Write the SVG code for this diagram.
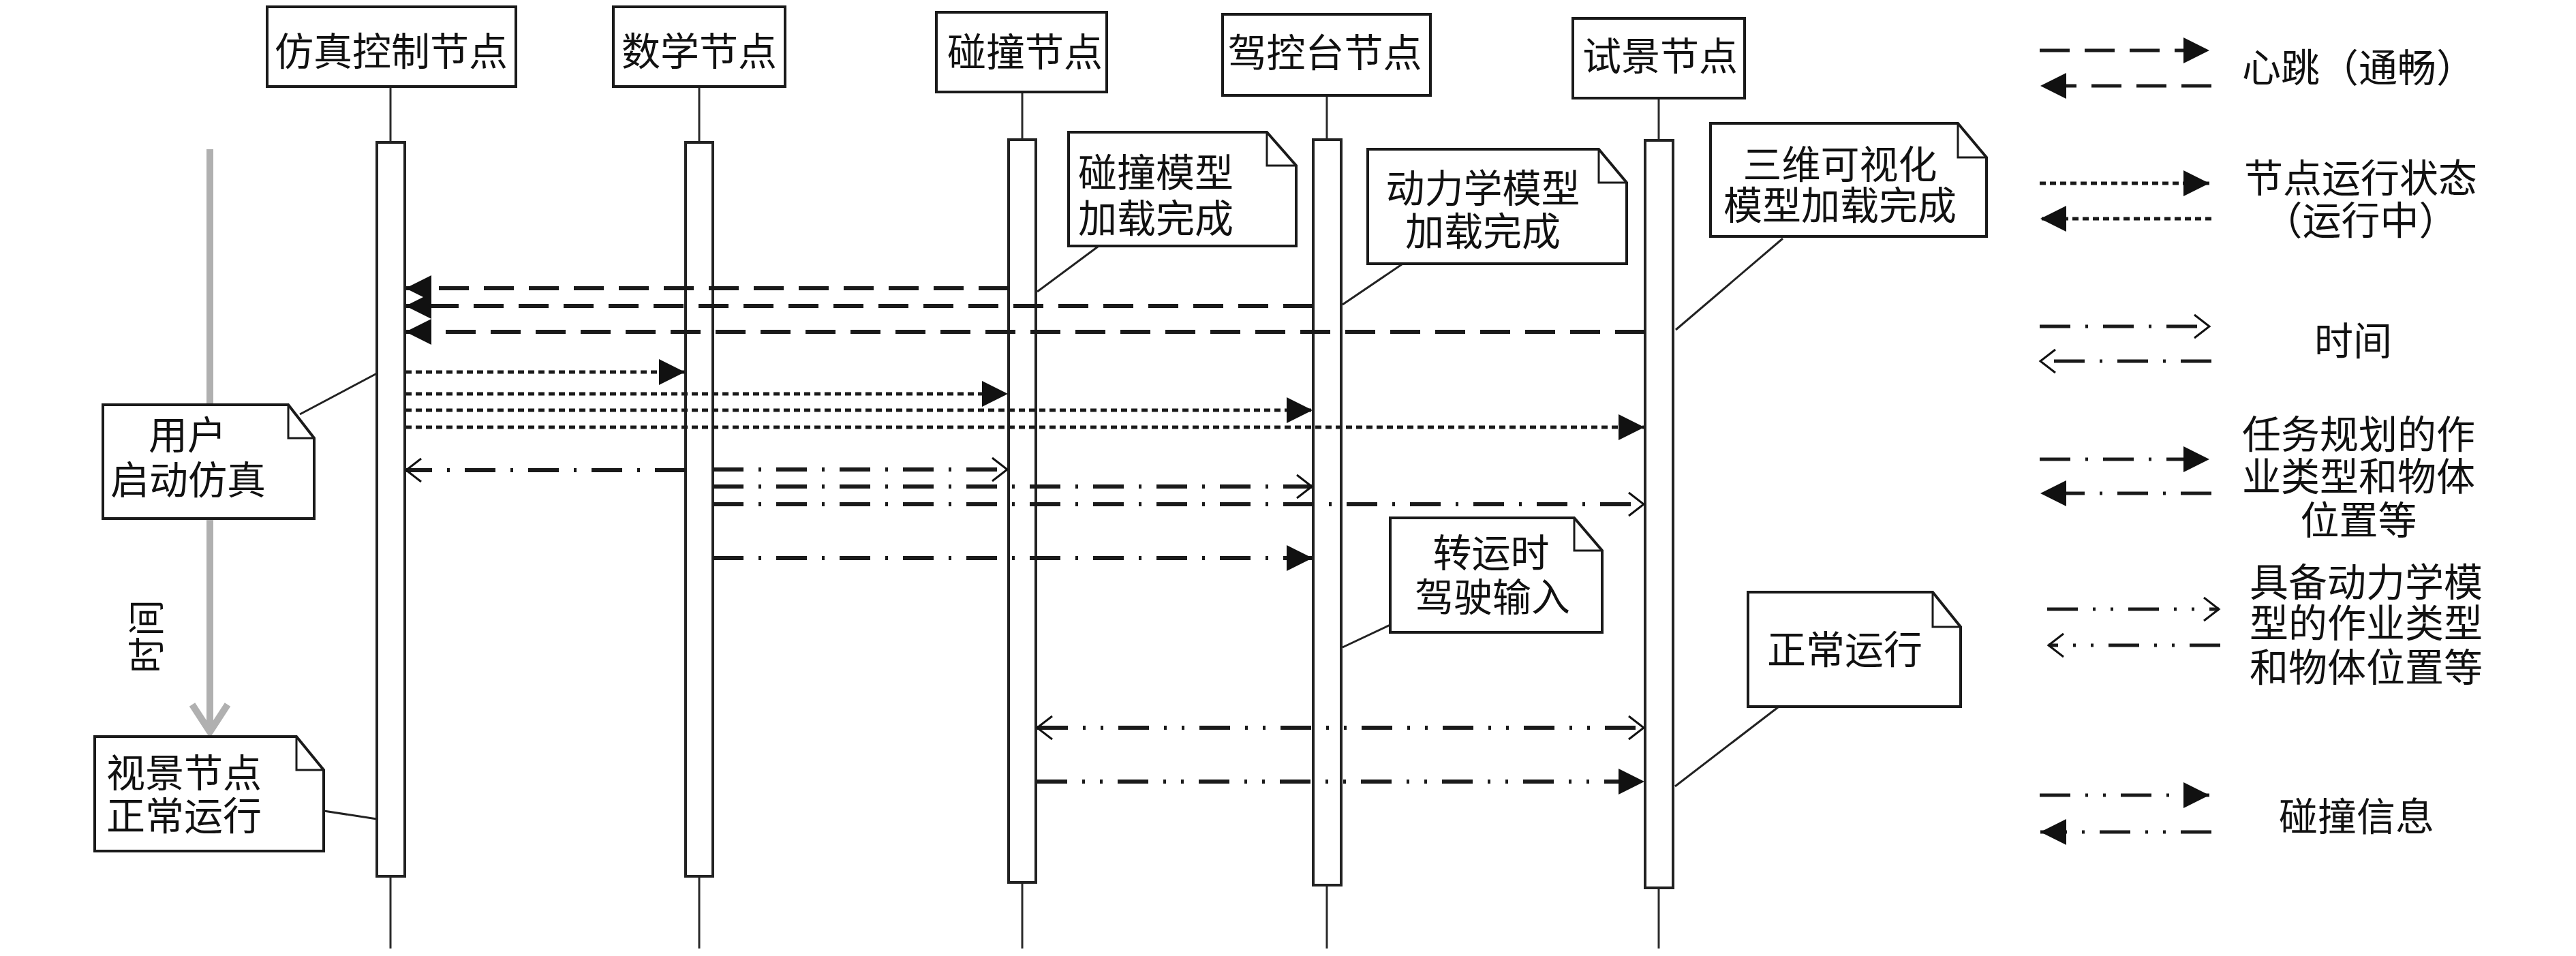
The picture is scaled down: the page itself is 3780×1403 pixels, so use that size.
<svg xmlns="http://www.w3.org/2000/svg" width="3780" height="1403" viewBox="0 0 3780 1403">
<style>
.t{font-family:"Noto Sans CJK SC","Noto Sans",sans-serif;font-size:57px;fill:#111}
.m{text-anchor:middle}
.box{fill:#fff;stroke:#1a1a1a;stroke-width:4}
.bar{fill:#fff;stroke:#222;stroke-width:4}
.life{stroke:#2a2a2a;stroke-width:3;fill:none}
.note{fill:#fff;stroke:#1a1a1a;stroke-width:4;stroke-linejoin:miter}
.fold{fill:none;stroke:#1a1a1a;stroke-width:3}
.nl{stroke:#222;stroke-width:3;fill:none}
.hb{fill:none;stroke:#1a1a1a;stroke-width:6;stroke-dasharray:44 22}
.dt{fill:none;stroke:#1a1a1a;stroke-width:5;stroke-dasharray:9 6}
.dd{fill:none;stroke:#1a1a1a;stroke-width:6;stroke-dasharray:45 22 4 22}
.ddd{fill:none;stroke:#1a1a1a;stroke-width:6;stroke-dasharray:45 22 4 22 4 22}
.fa{marker-end:url(#fa)}
.oa{marker-end:url(#oa)}
.ob{marker-start:url(#oas);marker-end:url(#oa)}
</style>
<defs>
<marker id="fa" markerUnits="userSpaceOnUse" markerWidth="40" markerHeight="40" viewBox="0 0 40 40" refX="38" refY="19" orient="auto" overflow="visible"><path d="M0,0 L38,19 L0,38 Z" fill="#111"/></marker>
<marker id="oa" markerUnits="userSpaceOnUse" markerWidth="26" markerHeight="36" viewBox="0 0 26 36" refX="22" refY="17" orient="auto" overflow="visible"><path d="M0,0 L22,17 L0,34" fill="none" stroke="#111" stroke-width="3"/></marker>
<marker id="oas" markerUnits="userSpaceOnUse" markerWidth="26" markerHeight="36" viewBox="0 0 26 36" refX="22" refY="17" orient="auto-start-reverse" overflow="visible"><path d="M0,0 L22,17 L0,34" fill="none" stroke="#111" stroke-width="3"/></marker>
</defs>
<rect x="0" y="0" width="3780" height="1403" fill="#fff"/>

<!-- time axis -->
<g id="time-axis">
<line x1="308" y1="219" x2="308" y2="1072" stroke="#b0b0b0" stroke-width="10"/>
<polyline points="282,1034 308,1074 334,1034" fill="none" stroke="#b0b0b0" stroke-width="10"/>
<text class="t m" transform="translate(215,934) rotate(-90)" x="0" y="20" style="font-size:54px">时间</text>
</g>

<!-- lifelines -->
<g id="node-sim">
<line class="life" x1="573" y1="127" x2="573" y2="209"/>
<line class="life" x1="573" y1="1286" x2="573" y2="1392"/>
<rect class="box" x="392" y="10" width="365" height="117"/>
<text class="t m" x="574" y="96">仿真控制节点</text>
<rect class="bar" x="553" y="209" width="41" height="1077"/>
</g>
<g id="node-math">
<line class="life" x1="1026" y1="127" x2="1026" y2="209"/>
<line class="life" x1="1026" y1="1286" x2="1026" y2="1392"/>
<rect class="box" x="900" y="10" width="252" height="117"/>
<text class="t m" x="1026" y="96">数学节点</text>
<rect class="bar" x="1006" y="209" width="40" height="1077"/>
</g>
<g id="node-collision">
<line class="life" x1="1500" y1="135" x2="1500" y2="205"/>
<line class="life" x1="1500" y1="1295" x2="1500" y2="1392"/>
<rect class="box" x="1374" y="18" width="250" height="117"/>
<text class="t m" x="1504" y="97">碰撞节点</text>
<rect class="bar" x="1480" y="205" width="40" height="1090"/>
</g>
<g id="node-console">
<line class="life" x1="1947" y1="140" x2="1947" y2="205"/>
<line class="life" x1="1947" y1="1299" x2="1947" y2="1392"/>
<rect class="box" x="1794" y="21" width="305" height="119"/>
<text class="t m" x="1944" y="98">驾控台节点</text>
<rect class="bar" x="1927" y="205" width="41" height="1094"/>
</g>
<g id="node-view">
<line class="life" x1="2434" y1="144" x2="2434" y2="206"/>
<line class="life" x1="2434" y1="1303" x2="2434" y2="1392"/>
<rect class="box" x="2308" y="27" width="252" height="117"/>
<text class="t m" x="2436" y="103">试景节点</text>
<rect class="bar" x="2414" y="206" width="41" height="1097"/>
</g>

<!-- notes -->
<g id="note-user">
<line class="nl" x1="440" y1="608" x2="553" y2="548"/>
<path class="note" d="M151,594 H423 L461,643 V761 H151 Z"/>
<path class="fold" d="M423,594 V643 H461"/>
<text class="t m"><tspan x="275" y="659">用户</tspan><tspan x="276" y="725">启动仿真</tspan></text>
</g>
<g id="note-view-run">
<line class="nl" x1="475" y1="1190" x2="553" y2="1202"/>
<path class="note" d="M139,1081 H435 L475,1130 V1249 H139 Z"/>
<path class="fold" d="M435,1081 V1130 H475"/>
<text class="t"><tspan x="156" y="1155">视景节点</tspan><tspan x="156" y="1218">正常运行</tspan></text>
</g>
<g id="note-collision-model">
<line class="nl" x1="1611" y1="362" x2="1522" y2="428"/>
<path class="note" d="M1568,194 H1859 L1902,243 V361 H1568 Z"/>
<path class="fold" d="M1859,194 V243 H1902"/>
<text class="t"><tspan x="1582" y="274">碰撞模型</tspan><tspan x="1582" y="341">加载完成</tspan></text>
</g>
<g id="note-dynamics-model">
<line class="nl" x1="2057" y1="388" x2="1970" y2="447"/>
<path class="note" d="M2007,219 H2346 L2387,268 V387 H2007 Z"/>
<path class="fold" d="M2346,219 V268 H2387"/>
<text class="t m"><tspan x="2176" y="297">动力学模型</tspan><tspan x="2176" y="360">加载完成</tspan></text>
</g>
<g id="note-3d-model">
<line class="nl" x1="2616" y1="350" x2="2459" y2="484"/>
<path class="note" d="M2510,181 H2873 L2915,231 V347 H2510 Z"/>
<path class="fold" d="M2873,181 V231 H2915"/>
<text class="t m"><tspan x="2700" y="262">三维可视化</tspan><tspan x="2700" y="322">模型加载完成</tspan></text>
</g>
<g id="note-transfer">
<line class="nl" x1="2040" y1="917" x2="1970" y2="950"/>
<path class="note" d="M2040,760 H2310 L2351,808 V928 H2040 Z"/>
<path class="fold" d="M2310,760 V808 H2351"/>
<text class="t m"><tspan x="2188" y="832">转运时</tspan><tspan x="2190" y="897">驾驶输入</tspan></text>
</g>
<g id="note-normal-run">
<line class="nl" x1="2609" y1="1038" x2="2458" y2="1154"/>
<path class="note" d="M2565,869 H2836 L2877,920 V1037 H2565 Z"/>
<path class="fold" d="M2836,869 V920 H2877"/>
<text class="t m" x="2707" y="974">正常运行</text>
</g>

<!-- connectors -->
<g id="connectors">
<line class="hb fa" x1="1480" y1="423" x2="595" y2="423"/>
<line class="hb fa" x1="1927" y1="449" x2="595" y2="449"/>
<line class="hb fa" x1="2414" y1="487" x2="595" y2="487"/>
<line class="dt fa" x1="595" y1="546" x2="1005" y2="546"/>
<line class="dt fa" x1="595" y1="578" x2="1479" y2="578"/>
<line class="dt fa" x1="595" y1="602" x2="1926" y2="602"/>
<line class="dt fa" x1="595" y1="627" x2="2413" y2="627"/>
<line class="dd oa" x1="1006" y1="690" x2="596" y2="690"/>
<line class="dd oa" x1="1046" y1="689" x2="1478" y2="689"/>
<line class="dd oa" x1="1046" y1="714" x2="1925" y2="714"/>
<line class="dd oa" x1="1046" y1="740" x2="2412" y2="740"/>
<line class="dd fa" x1="1046" y1="819" x2="1926" y2="819"/>
<line class="ddd ob" x1="1522" y1="1068" x2="2412" y2="1068"/>
<line class="ddd fa" x1="1521" y1="1147" x2="2413" y2="1147"/>
</g>

<!-- legend -->
<g id="legend">
<line class="hb fa" style="stroke-width:5" x1="2993" y1="74" x2="3242" y2="74"/>
<line class="hb fa" style="stroke-width:5" x1="3245" y1="126" x2="2994" y2="126"/>
<text class="t m" x="3461" y="120">心跳（通畅）</text>
<line class="dt fa" x1="2993" y1="269" x2="3242" y2="269"/>
<line class="dt fa" x1="3245" y1="321" x2="2994" y2="321"/>
<text class="t m"><tspan x="3464" y="282">节点运行状态</tspan><tspan x="3464" y="344">（运行中）</tspan></text>
<line class="dd oa" style="stroke-width:5" x1="2993" y1="479" x2="3242" y2="479"/>
<line class="dd oa" style="stroke-width:5" x1="3245" y1="530" x2="2994" y2="530"/>
<text class="t m" x="3453" y="521">时间</text>
<line class="dd fa" style="stroke-width:5" x1="2993" y1="674" x2="3242" y2="674"/>
<line class="dd fa" style="stroke-width:5" x1="3245" y1="724" x2="2994" y2="724"/>
<text class="t m"><tspan x="3461" y="658">任务规划的作</tspan><tspan x="3461" y="720">业类型和物体</tspan><tspan x="3461" y="784">位置等</tspan></text>
<line class="ddd oa" style="stroke-width:5" x1="3004" y1="894" x2="3256" y2="894"/>
<line class="ddd oa" style="stroke-width:5" x1="3258" y1="947" x2="3006" y2="947"/>
<text class="t m"><tspan x="3472" y="875">具备动力学模</tspan><tspan x="3472" y="935">型的作业类型</tspan><tspan x="3472" y="1000">和物体位置等</tspan></text>
<line class="ddd fa" style="stroke-width:5" x1="2993" y1="1167" x2="3242" y2="1167"/>
<line class="ddd fa" style="stroke-width:5" x1="3245" y1="1221" x2="2994" y2="1221"/>
<text class="t m" x="3458" y="1219">碰撞信息</text>
</g>
</svg>
